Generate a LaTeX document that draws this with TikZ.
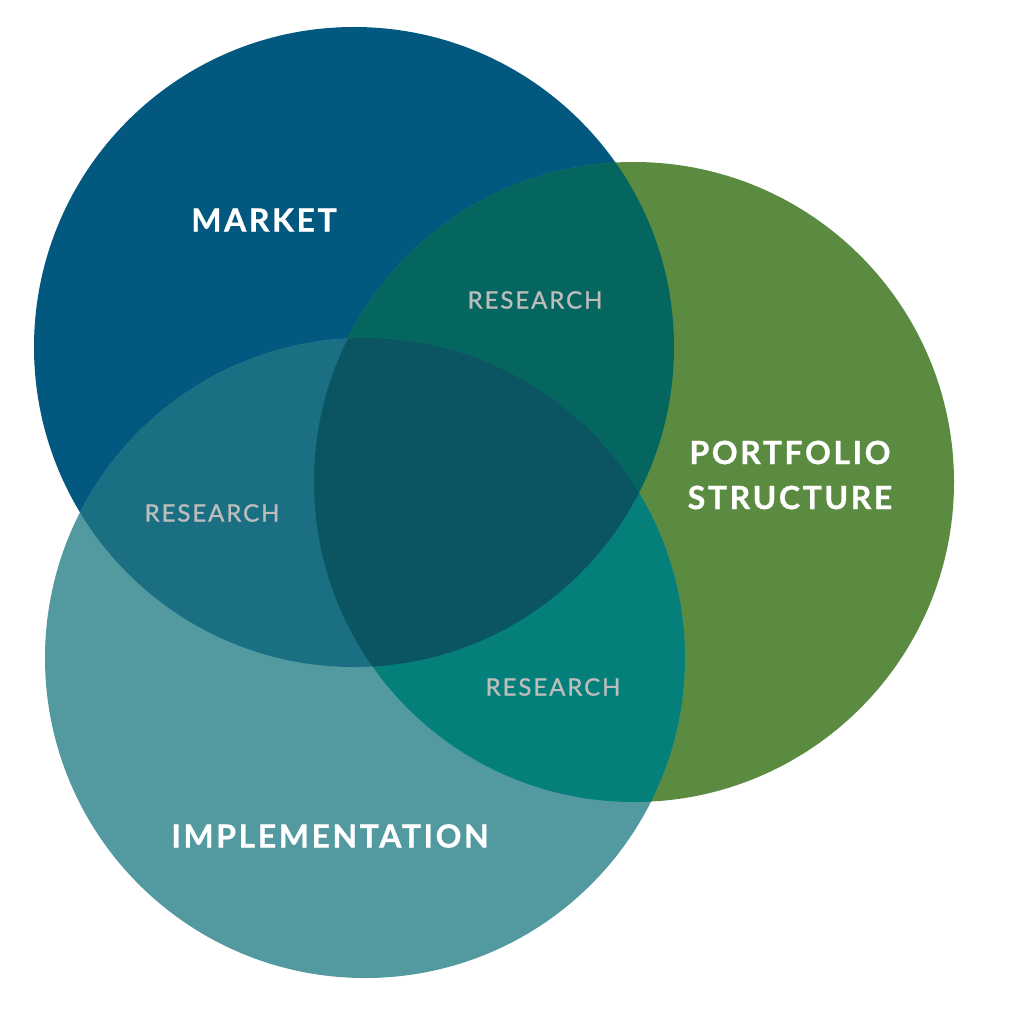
\documentclass[tikz,border=0pt]{standalone}
\usepackage{fontspec}
\setmainfont{Lato}
\usepackage{tikz}
\usetikzlibrary{positioning}
\definecolor{mktblue}{HTML}{02587F}
\definecolor{pfgreen}{HTML}{5B8B40}
\definecolor{impteal}{HTML}{5299A0}
\definecolor{mktpf}{HTML}{04665F}
\definecolor{mktimp}{HTML}{1B6F82}
\definecolor{imppf}{HTML}{047F79}
\definecolor{allthree}{HTML}{0B5462}
\definecolor{resgray}{HTML}{BDBDBD}

\begin{document}
\begin{tikzpicture}[
    x=1pt, y=-1pt,
    area/.style={font=\fontsize{32}{36}\selectfont\bfseries\addfontfeatures{LetterSpace=8,FakeBold=0.8},
      text=white, align=center, inner sep=0pt},
    overlap/.style={font=\fontsize{24}{28}\selectfont\addfontfeatures{LetterSpace=8,FakeBold=1},
      text=resgray, inner sep=0pt},
  ]
  \useasboundingbox (0,0) rectangle (1024,1022);

  %% --- circle centres ---
  \coordinate (mkt) at (354,347);
  \coordinate (pf)  at (634,482);
  \coordinate (imp) at (365,658);
  \def\rad{320}

  %% --- circles ---
  \fill[mktblue] (mkt) circle (\rad);
  \fill[pfgreen] (pf) circle (\rad);
  \fill[impteal] (imp) circle (\rad);

  %% --- overlaps ---
  \begin{scope}
    \clip (mkt) circle (\rad);
    \fill[mktpf] (pf) circle (\rad);
    \fill[mktimp] (imp) circle (\rad);
  \end{scope}
  \begin{scope}
    \clip (imp) circle (\rad);
    \fill[imppf] (pf) circle (\rad);
    \clip (mkt) circle (\rad);
    \fill[allthree] (pf) circle (\rad);
  \end{scope}

  %% --- labels ---
  \node[area] (market) at (264,220) {MARKET};
  \node[area] (portfolio) at (790,475) {PORTFOLIO\\[9pt]STRUCTURE};
  \node[area] (implementation) at (330,836) {IMPLEMENTATION};

  \node[overlap] (resmp) at (535,300) {RESEARCH};
  \node[overlap] (resmi) at (212,513) {RESEARCH};
  \node[overlap] (resip) at (553,687) {RESEARCH};
\end{tikzpicture}
\end{document}
